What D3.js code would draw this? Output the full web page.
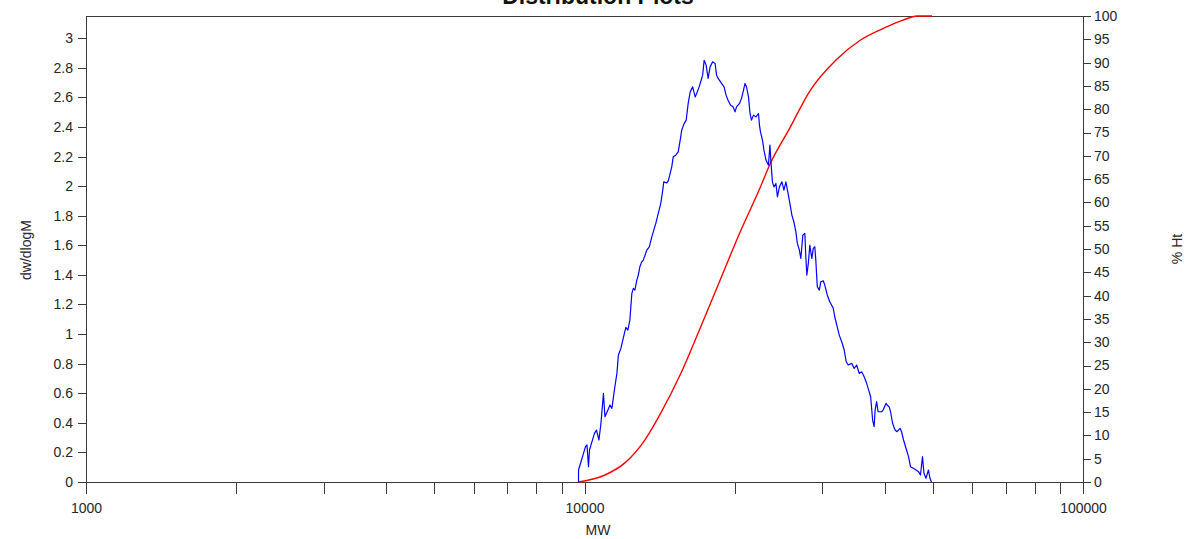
<!DOCTYPE html>
<html>
<head>
<meta charset="utf-8">
<script src="https://cdn.jsdelivr.net/npm/d3@7/dist/d3.min.js"></script>
<style>
  html, body { margin: 0; padding: 0; background: #fff; }
  svg { display: block; font-family: "Liberation Sans", Arial, sans-serif; }
  .axis path, .axis line { stroke: #3a3a3a; stroke-width: 1; shape-rendering: crispEdges; }
  .axis text { fill: #262626; font-size: 14px; }
</style>
</head>
<body>
<svg id="chart" width="1186" height="539"></svg>
<script>
// ---- Data ----
const title = "Distribution Plots";
const xLabel = "MW";
const yLeftLabel = "dw/dlogM";
const yRightLabel = "% Ht";

// x tick values (log axis) and which get labels
const xTicks = [1000, 2000, 3000, 4000, 5000, 6000, 7000, 8000, 9000,
                10000, 20000, 30000, 40000, 50000, 60000, 70000, 80000, 90000, 100000];
const xTickLabels = [1000, 10000, 100000];
const yLeftTicks = [0, 0.2, 0.4, 0.6, 0.8, 1, 1.2, 1.4, 1.6, 1.8, 2, 2.2, 2.4, 2.6, 2.8, 3];
const yRightTicks = [0, 5, 10, 15, 20, 25, 30, 35, 40, 45, 50, 55, 60, 65, 70, 75, 80, 85, 90, 95, 100];

// Distribution curve: log10(MW) and dw/dlogM
const distLogMW = [3.988, 3.988, 3.993, 3.998, 4.002, 4.005, 4.008, 4.010, 4.014, 4.020,
  4.024, 4.029, 4.033, 4.038, 4.041, 4.047, 4.051, 4.055, 4.060, 4.065,
  4.068, 4.073, 4.080, 4.083, 4.087, 4.091, 4.095, 4.098, 4.101, 4.105,
  4.108, 4.111, 4.115, 4.118, 4.125, 4.130, 4.135, 4.138, 4.143, 4.148,
  4.153, 4.157, 4.159, 4.165, 4.168, 4.171, 4.175, 4.178, 4.183, 4.188,
  4.192, 4.195, 4.200, 4.204, 4.208, 4.212, 4.217, 4.222, 4.225, 4.230,
  4.234, 4.237, 4.240, 4.244, 4.248, 4.252, 4.257, 4.262, 4.265, 4.268,
  4.275, 4.280, 4.284, 4.288, 4.293, 4.298, 4.302, 4.305, 4.311, 4.315,
  4.319, 4.322, 4.325, 4.329, 4.332, 4.335, 4.339, 4.344, 4.349, 4.351,
  4.353, 4.357, 4.360, 4.364, 4.369, 4.372, 4.374, 4.377, 4.380, 4.384,
  4.387, 4.391, 4.396, 4.400, 4.404, 4.409, 4.412, 4.416, 4.420, 4.424,
  4.427, 4.431, 4.434, 4.438, 4.442, 4.444, 4.446, 4.449, 4.452, 4.456,
  4.459, 4.462, 4.464, 4.467, 4.471, 4.474, 4.479, 4.482, 4.487, 4.492,
  4.499, 4.502, 4.507, 4.511, 4.516, 4.521, 4.525, 4.529, 4.536, 4.541,
  4.546, 4.551, 4.556, 4.561, 4.566, 4.569, 4.574, 4.578, 4.581, 4.583,
  4.586, 4.589, 4.596, 4.599, 4.605, 4.607, 4.611, 4.614, 4.618, 4.623,
  4.627, 4.633, 4.636, 4.640, 4.645, 4.650, 4.654, 4.663, 4.670, 4.674,
  4.678, 4.681, 4.685, 4.690, 4.693, 4.696];
const distValues = [0.000, 0.081, 0.137, 0.194, 0.239, 0.250, 0.103, 0.216, 0.261, 0.329,
  0.351, 0.284, 0.397, 0.599, 0.441, 0.486, 0.520, 0.498, 0.622, 0.734,
  0.858, 0.903, 1.005, 1.045, 1.027, 1.095, 1.275, 1.309, 1.297, 1.365,
  1.399, 1.455, 1.489, 1.500, 1.568, 1.590, 1.657, 1.691, 1.748, 1.816,
  1.883, 1.973, 2.029, 2.022, 2.036, 2.074, 2.130, 2.198, 2.209, 2.232,
  2.311, 2.378, 2.424, 2.446, 2.559, 2.637, 2.671, 2.603, 2.626, 2.671,
  2.716, 2.750, 2.851, 2.818, 2.728, 2.806, 2.840, 2.829, 2.750, 2.728,
  2.694, 2.671, 2.615, 2.581, 2.547, 2.536, 2.502, 2.536, 2.559, 2.593,
  2.649, 2.694, 2.671, 2.603, 2.491, 2.446, 2.480, 2.468, 2.491, 2.412,
  2.367, 2.311, 2.243, 2.176, 2.142, 2.277, 2.164, 2.029, 1.995, 2.018,
  1.928, 1.995, 2.029, 1.973, 2.029, 1.939, 1.883, 1.804, 1.759, 1.691,
  1.613, 1.568, 1.511, 1.669, 1.680, 1.522, 1.399, 1.478, 1.601, 1.511,
  1.579, 1.590, 1.500, 1.320, 1.297, 1.353, 1.360, 1.331, 1.264, 1.218,
  1.174, 1.117, 1.049, 0.993, 0.948, 0.892, 0.813, 0.791, 0.802, 0.768,
  0.791, 0.734, 0.745, 0.711, 0.667, 0.633, 0.576, 0.419, 0.374, 0.486,
  0.543, 0.475, 0.475, 0.486, 0.532, 0.520, 0.509, 0.475, 0.397, 0.351,
  0.340, 0.363, 0.340, 0.284, 0.228, 0.171, 0.103, 0.086, 0.070, 0.047,
  0.171, 0.059, 0.025, 0.081, 0.025, 0.000];

// Cumulative curve: log10(MW) and % Ht
const cumLogMW = [3.988, 4.041, 4.081, 4.121, 4.151, 4.192, 4.232, 4.272, 4.312, 4.352,
  4.372, 4.412, 4.452, 4.505, 4.553, 4.605, 4.639, 4.667, 4.697];
const cumPercent = [0, 1.5, 4.1, 9.0, 14.4, 23.0, 33.0, 43.3, 53.6, 63.1,
  68.2, 76.0, 83.9, 90.6, 94.8, 97.6, 99.1, 100, 100];

// ---- Layout ----
const svg = d3.select("#chart");
const mLeft = 86, mRight = 1083, mTop = 16, mBottom = 482;

const x = d3.scaleLog().domain([1000, 100000]).range([mLeft, mRight]);
const yL = d3.scaleLinear().domain([0, 3.15]).range([mBottom, mTop]);
const yR = d3.scaleLinear().domain([0, 100]).range([mBottom, mTop]);

// Title (partially clipped at the top edge, as in the reference)
svg.append("text")
  .attr("x", 598).attr("y", 4)
  .attr("text-anchor", "middle")
  .style("font-size", "23px").style("font-weight", "bold").style("fill", "#111")
  .text(title);

// Top frame line
svg.append("line")
  .attr("x1", mLeft).attr("x2", mRight).attr("y1", mTop + 0.5).attr("y2", mTop + 0.5)
  .attr("stroke", "#3a3a3a").style("shape-rendering", "crispEdges");

// Bottom axis
const xAxis = d3.axisBottom(x)
  .tickValues(xTicks)
  .tickSize(12)
  .tickPadding(9)
  .tickFormat(d => xTickLabels.includes(d) ? String(d) : "");
const gx = svg.append("g").attr("class", "axis")
  .attr("transform", `translate(0,${mBottom})`).call(xAxis);
gx.select(".domain").attr("d", `M${mLeft - 8},0.5H${mRight + 8}`);

// Left axis
const yAxisL = d3.axisLeft(yL).tickValues(yLeftTicks).tickSize(8).tickPadding(5)
  .tickFormat(d => String(+d.toFixed(1)));
const gyl = svg.append("g").attr("class", "axis")
  .attr("transform", `translate(${mLeft},0)`).call(yAxisL);
gyl.select(".domain").attr("d", `M0.5,${mTop}V${mBottom + 12}`);

// Right axis
const yAxisR = d3.axisRight(yR).tickValues(yRightTicks).tickSize(8).tickPadding(3)
  .tickFormat(d => String(d));
const gyr = svg.append("g").attr("class", "axis")
  .attr("transform", `translate(${mRight},0)`).call(yAxisR);
gyr.select(".domain").attr("d", `M0.5,${mTop}V${mBottom + 12}`);

// Axis titles
svg.append("text").attr("x", 598).attr("y", 535).attr("text-anchor", "middle")
  .style("font-size", "14px").style("fill", "#262626").text(xLabel);
svg.append("text").attr("transform", "translate(31,250) rotate(-90)")
  .attr("text-anchor", "middle")
  .style("font-size", "14px").style("fill", "#262626").text(yLeftLabel);
svg.append("text").attr("transform", "translate(1182,249) rotate(-90)")
  .attr("text-anchor", "middle")
  .style("font-size", "14px").style("fill", "#262626").text(yRightLabel);

// Series
const distData = distLogMW.map((lm, i) => ({ mw: Math.pow(10, lm), v: distValues[i] }));
const cumData = cumLogMW.map((lm, i) => ({ mw: Math.pow(10, lm), v: cumPercent[i] }));

svg.append("path")
  .datum(cumData)
  .attr("fill", "none").attr("stroke", "#ff0000").attr("stroke-width", 1.4)
  .attr("d", d3.line().x(d => x(d.mw)).y(d => yR(d.v)).curve(d3.curveMonotoneX));

svg.append("path")
  .datum(distData)
  .attr("fill", "none").attr("stroke", "#0000ff").attr("stroke-width", 1.2)
  .attr("stroke-linejoin", "round")
  .attr("d", d3.line().x(d => x(d.mw)).y(d => yL(d.v)));
</script>
</body>
</html>
